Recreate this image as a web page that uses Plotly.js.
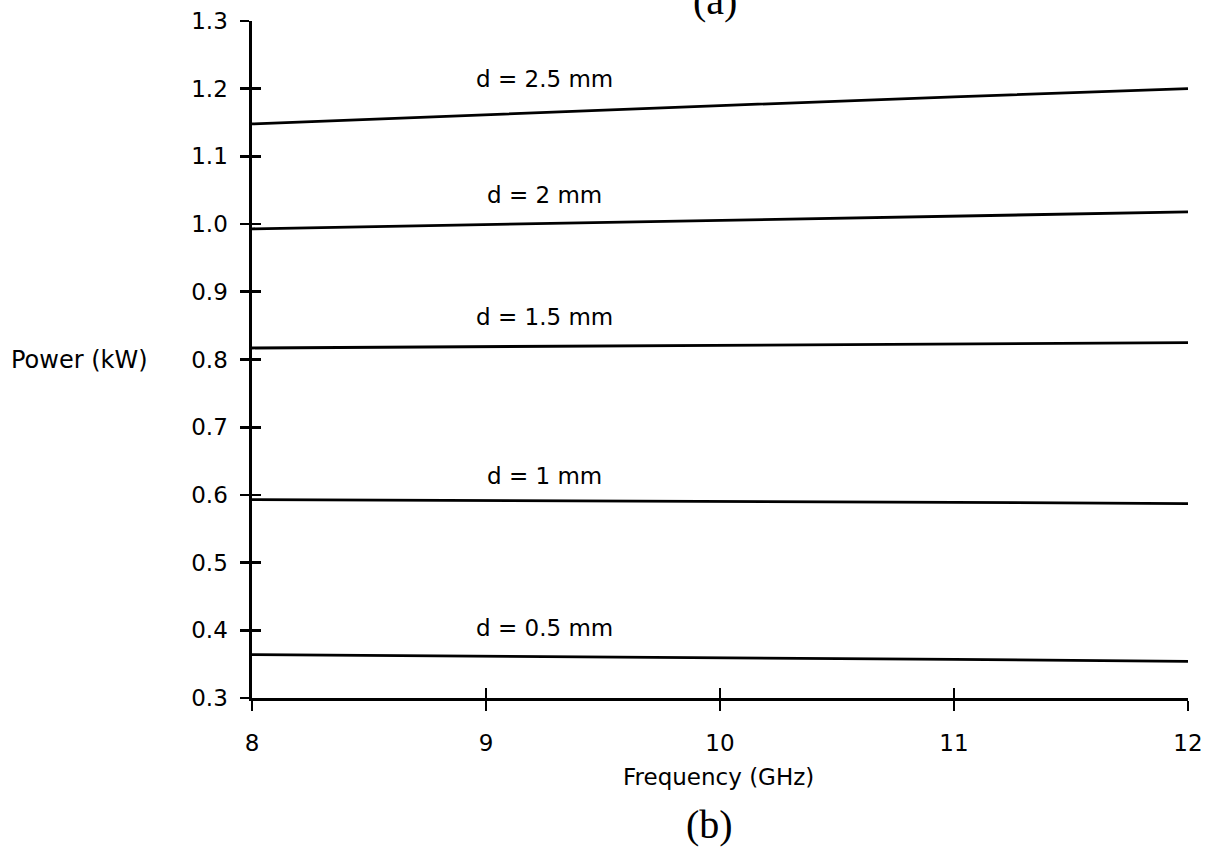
<!DOCTYPE html>
<html>
<head>
<meta charset="utf-8">
<script src="https://cdn.plot.ly/plotly-3.0.1.min.js"></script>
<style>html,body{margin:0;padding:0;background:#fff;}#chart{width:1212px;height:850px;}</style>
</head>
<body>
<div id="chart"></div>
<script>
// Frequency (GHz)
const frequency = [8, 9, 10, 11, 12];
// Power (kW) for each thickness d
const d05 = [0.364, 0.362, 0.360, 0.357, 0.354];
const d10 = [0.593, 0.592, 0.590, 0.589, 0.587];
const d15 = [0.817, 0.819, 0.821, 0.823, 0.825];
const d20 = [0.993, 0.999, 1.006, 1.012, 1.018];
const d25 = [1.148, 1.162, 1.175, 1.188, 1.200];
const seriesLabels = ["d = 0.5 mm", "d = 1 mm", "d = 1.5 mm", "d = 2 mm", "d = 2.5 mm"];
const xTicks = [8, 9, 10, 11, 12];
const yTicks = [0.3, 0.4, 0.5, 0.6, 0.7, 0.8, 0.9, 1.0, 1.1, 1.2, 1.3];
const yTickText = ["0.3", "0.4", "0.5", "0.6", "0.7", "0.8", "0.9", "1.0", "1.1", "1.2", "1.3"];

const allSeries = [d05, d10, d15, d20, d25];
const traces = allSeries.map((ys, i) => ({
  x: frequency, y: ys, type: 'scatter', mode: 'lines',
  line: {color: '#000', width: 2.8}, name: seriesLabels[i], showlegend: false, hoverinfo: 'skip'
}));

const labelShift = [28, 25, 29, 29, 33];
const FONT = 'DejaVu Sans, Liberation Sans, sans-serif';
const annotations = allSeries.map((ys, i) => ({
  x: 9.25, y: ys[1] + (ys[2] - ys[1]) * 0.25, xref: 'x', yref: 'y',
  text: seriesLabels[i], showarrow: false, yshift: labelShift[i],
  xanchor: 'center', yanchor: 'middle', font: {family: FONT, size: 23, color: '#000'}
}));
annotations.push({x: -0.184, y: 0.8, xref: 'paper', yref: 'y', text: 'Power (kW)', showarrow: false,
  xanchor: 'center', yanchor: 'middle', font: {family: FONT, size: 24, color: '#000'}});
annotations.push({x: 0.498, y: -0.117, xref: 'paper', yref: 'paper', text: 'Frequency (GHz)', showarrow: false,
  xanchor: 'center', yanchor: 'middle', font: {family: FONT, size: 23, color: '#000'}});
annotations.push({x: 0.489, y: -0.187, xref: 'paper', yref: 'paper', text: '(b)', showarrow: false,
  xanchor: 'center', yanchor: 'middle', font: {family: 'Liberation Serif, Times New Roman, serif', size: 40, color: '#000'}});
annotations.push({x: 0.495, y: 1.031, xref: 'paper', yref: 'paper', text: '(a)', showarrow: false,
  xanchor: 'center', yanchor: 'middle', font: {family: 'Liberation Serif, Times New Roman, serif', size: 40, color: '#000'}});

const axisCommon = {showgrid: false, zeroline: false, showline: true, linecolor: '#000', linewidth: 2.6,
  tickcolor: '#000', tickwidth: 2.6, ticklen: 9, ticks: 'outside', mirror: false};

const layout = {
  width: 1212, height: 850,
  margin: {l: 252, r: 24, t: 21, b: 152},
  paper_bgcolor: '#fff', plot_bgcolor: '#fff',
  xaxis: Object.assign({}, axisCommon, {range: [8, 12], tickvals: xTicks, ticktext: xTicks.map(String),
    ticklen: 10, ticklabelstandoff: 13, tickfont: {family: FONT, size: 23, color: '#000'}}),
  yaxis: Object.assign({}, axisCommon, {range: [0.3, 1.3], tickvals: yTicks, ticktext: yTickText,
    ticklabelstandoff: 8, tickfont: {family: FONT, size: 23, color: '#000'}}),
  xaxis2: {overlaying: 'x', range: [8, 12], tickvals: xTicks, showticklabels: false, ticks: 'inside', ticklen: 10,
    tickwidth: 2.6, tickcolor: '#000', showgrid: false, zeroline: false, showline: false, side: 'bottom'},
  yaxis2: {overlaying: 'y', range: [0.3, 1.3], tickvals: yTicks, showticklabels: false, ticks: 'inside', ticklen: 9,
    tickwidth: 2.6, tickcolor: '#000', showgrid: false, zeroline: false, showline: false, side: 'left'},
  annotations: annotations,
  showlegend: false
};

// invisible helper trace to activate the overlay axes
traces.push({x: [frequency[0]], y: [d05[0]], xaxis: 'x2', yaxis: 'y2', type: 'scatter', mode: 'markers',
  marker: {opacity: 0}, hoverinfo: 'skip', showlegend: false});

Plotly.newPlot('chart', traces, layout, {displayModeBar: false, staticPlot: true});
</script>
</body>
</html>
